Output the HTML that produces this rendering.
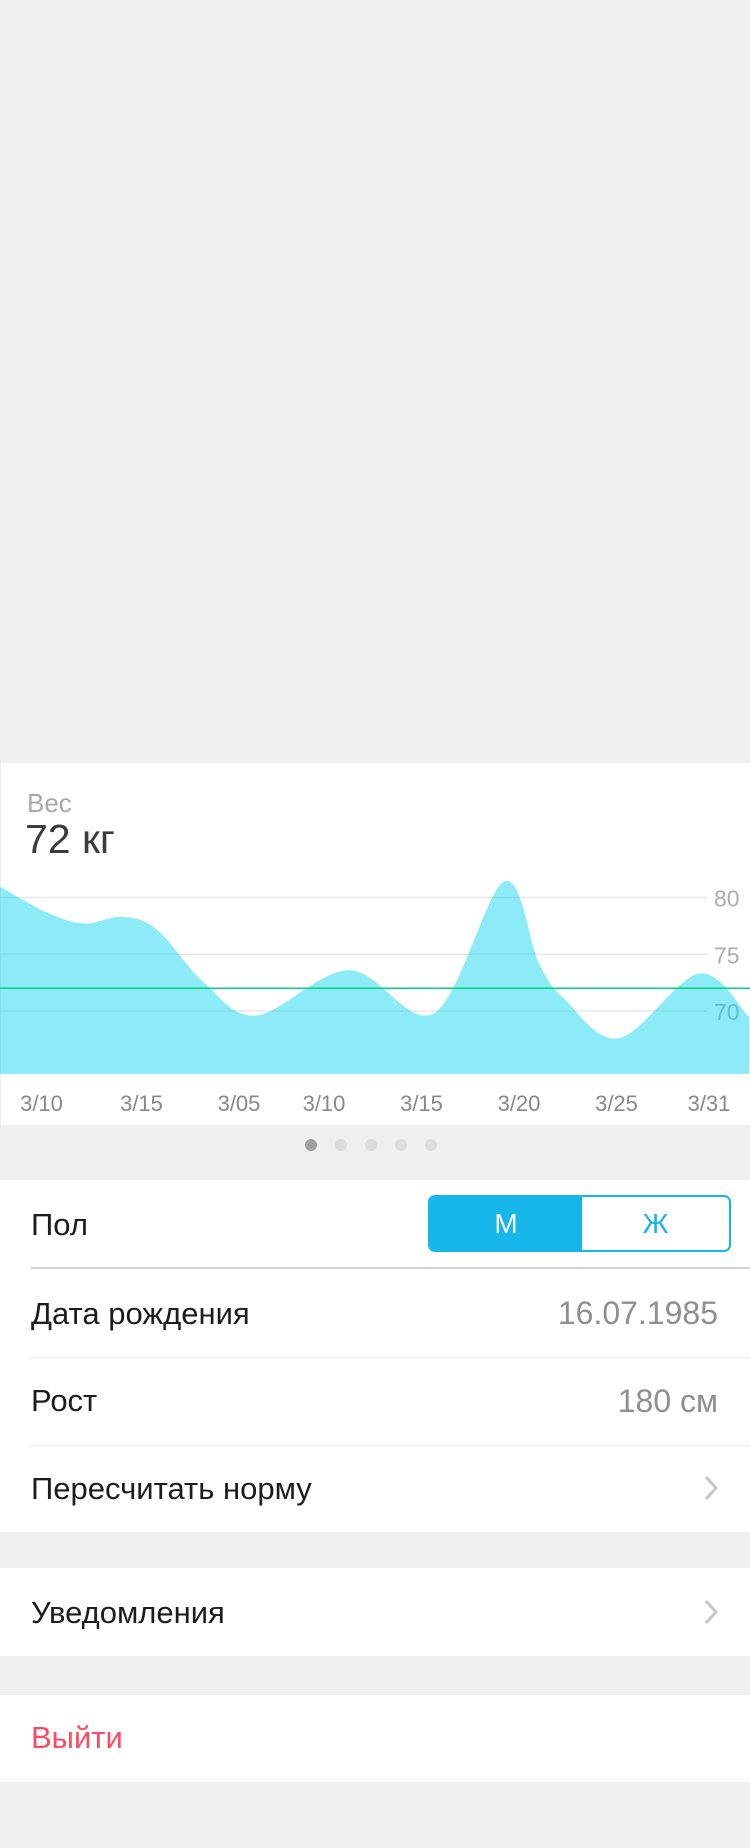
<!DOCTYPE html>
<html><head><meta charset="utf-8">
<style>
html,body{margin:0;padding:0;}
body{width:750px;height:1848px;background:#efefef;position:relative;overflow:hidden;font-family:"Liberation Sans","DejaVu Sans",sans-serif;}
.abs{position:absolute;}
.card{left:1px;top:763px;width:749px;height:362px;background:#fff;}
.white{background:#fff;left:0;width:750px;}
.lbl{left:31px;font-size:31px;color:#1c1c1c;line-height:1;}
.val{right:32px;font-size:32px;color:#8e8e93;line-height:1;}
.sep{height:1px;background:#ececec;left:30px;right:0;}
.chev{right:32px;width:14px;height:26px;}
</style></head><body>
<div class="abs card"></div>
<div class="abs" style="left:27px;top:790px;font-size:26px;color:#a8a8a8;line-height:1;">Вес</div>
<div class="abs" style="left:25px;top:819px;font-size:41px;color:#3c3c3c;line-height:1;">72 кг</div>
<svg class="abs" style="left:0;top:763px" width="750" height="362" id="chart"></svg>
<div class="abs" style="left:0;top:1139px;width:750px;height:12px;">
<span class="abs" style="left:305px;top:0;width:12px;height:12px;border-radius:6px;background:#a0a0a0"></span>
<span class="abs" style="left:335px;top:0;width:12px;height:12px;border-radius:6px;background:#dcdcdc"></span>
<span class="abs" style="left:365px;top:0;width:12px;height:12px;border-radius:6px;background:#dcdcdc"></span>
<span class="abs" style="left:395px;top:0;width:12px;height:12px;border-radius:6px;background:#dcdcdc"></span>
<span class="abs" style="left:425px;top:0;width:12px;height:12px;border-radius:6px;background:#dcdcdc"></span>
</div>

<div class="abs white" style="top:1180px;height:352px"></div>
<div class="abs lbl" style="top:1209px">Пол</div>
<div class="abs" style="left:428px;top:1195px;width:299px;height:53px;border:2px solid #16b5ea;border-radius:7px;overflow:hidden;display:flex;background:#fff;">
<div style="width:152px;background:#16b5ea;color:#fff;font-size:28px;text-align:center;line-height:53px;">М</div>
<div style="flex:1;color:#16b5ea;font-size:28px;text-align:center;line-height:53px;">Ж</div>
</div>
<div class="abs" style="left:31px;right:0;top:1267px;height:2px;background:#cfcfd3"></div>
<div class="abs lbl" style="top:1298px">Дата рождения</div>
<div class="abs val" style="top:1297px">16.07.1985</div>
<div class="abs sep" style="top:1357px"></div>
<div class="abs lbl" style="top:1385px">Рост</div>
<div class="abs val" style="top:1385px">180 см</div>
<div class="abs sep" style="top:1445px"></div>
<div class="abs lbl" style="top:1473px">Пересчитать норму</div>
<svg class="abs chev" style="top:1475px" viewBox="0 0 14 26"><path d="M2 2 L12 13 L2 24" fill="none" stroke="#c7c7cc" stroke-width="3"/></svg>

<div class="abs white" style="top:1568px;height:88px"></div>
<div class="abs lbl" style="top:1597px">Уведомления</div>
<svg class="abs chev" style="top:1599px" viewBox="0 0 14 26"><path d="M2 2 L12 13 L2 24" fill="none" stroke="#c7c7cc" stroke-width="3"/></svg>

<div class="abs white" style="top:1695px;height:87px"></div>
<div class="abs lbl" style="top:1722px;color:#fc4a62">Выйти</div>

<script>
const dayOffsets = [0, 1.9, 3.4, 4.9, 6.3, 8.2, 10.3, 14, 17.4, 20.2, 21.6, 22.6, 24.8, 28, 30];
const weights = [81.0, 78.7, 77.7, 78.3, 77.2, 72.5, 69.6, 73.6, 69.8, 81.4, 74.2, 71.1, 67.6, 73.3, 69.5];
const yTicks = [70, 75, 80];
const xLabels = ["3/10","3/15","3/05","3/10","3/15","3/20","3/25","3/31"];
const xLabelDays = [1.7, 5.7, 9.6, 13.0, 16.9, 20.8, 24.7, 28.4];
const targetWeight = 72;

const svg = document.getElementById('chart');
const NS = 'http://www.w3.org/2000/svg';
const X = d => d * 25 - 1;
const Y = v => 248 - (v - 70) * 11.35;
const baseY = 311;

yTicks.forEach(t => {
  const l = document.createElementNS(NS, 'line');
  
  
  l.setAttribute('x1', 0); l.setAttribute('x2', 707);
  l.setAttribute('y1', Y(t)); l.setAttribute('y2', Y(t));
  l.setAttribute('stroke', '#e8e8e8'); l.setAttribute('stroke-width', 1.5);
  svg.appendChild(l);
  const tx = document.createElementNS(NS, 'text');
  
  
  tx.setAttribute('x', 714); tx.setAttribute('y', Y(t) + 9);
  tx.setAttribute('font-size', '23'); tx.setAttribute('fill', '#adadad');
  tx.setAttribute('font-family', 'Liberation Sans, sans-serif');
  tx.textContent = t;
  svg.appendChild(tx);
});

const pts = dayOffsets.map((d, i) => [X(d), Y(weights[i])]);
let d = `M${pts[0][0]},${baseY} L${pts[0][0]},${pts[0][1]}`;
for (let i = 0; i < pts.length - 1; i++) {
  const p0 = pts[i - 1] || pts[i], p1 = pts[i], p2 = pts[i + 1], p3 = pts[i + 2] || p2;
  const c1 = [p1[0] + (p2[0] - p0[0]) / 6, p1[1] + (p2[1] - p0[1]) / 6];
  const c2 = [p2[0] - (p3[0] - p1[0]) / 6, p2[1] - (p3[1] - p1[1]) / 6];
  d += ` C${c1[0]},${c1[1]} ${c2[0]},${c2[1]} ${p2[0]},${p2[1]}`;
}
d += ` L${pts[pts.length - 1][0]},${baseY} Z`;
const area = document.createElementNS(NS, 'path');


area.setAttribute('d', d);
area.setAttribute('fill', 'rgba(0,210,235,0.45)');
svg.appendChild(area);

const g = document.createElementNS(NS, 'line');


g.setAttribute('x1', 0); g.setAttribute('x2', 750);
g.setAttribute('y1', Y(targetWeight)); g.setAttribute('y2', Y(targetWeight));
g.setAttribute('stroke', '#00d37f'); g.setAttribute('stroke-width', 1.5);
svg.appendChild(g);

xLabels.forEach((lab, i) => {
  const tx = document.createElementNS(NS, 'text');
  
  
  tx.setAttribute('x', X(xLabelDays[i])); tx.setAttribute('y', 348);
  tx.setAttribute('text-anchor', 'middle');
  tx.setAttribute('font-size', '22'); tx.setAttribute('fill', '#888888');
  tx.setAttribute('font-family', 'Liberation Sans, sans-serif');
  tx.textContent = lab;
  svg.appendChild(tx);
});
</script>
</body></html>
